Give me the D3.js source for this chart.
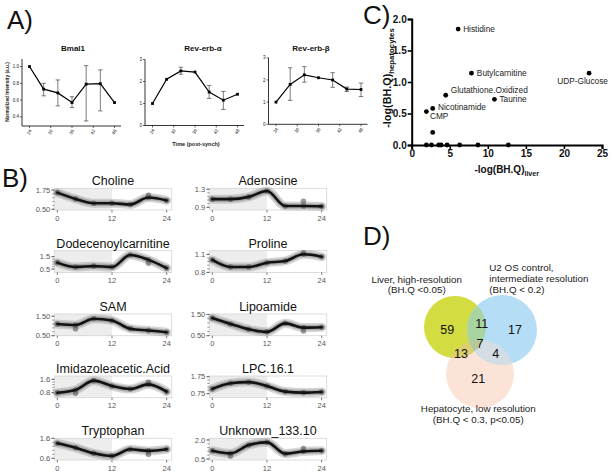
<!DOCTYPE html>
<html><head><meta charset="utf-8">
<script src="https://cdn.jsdelivr.net/npm/d3@7"></script>
<style>body{margin:0;background:#fff}svg{display:block}text{font-family:"Liberation Sans",Arial,sans-serif}</style>
</head><body><svg id="c" width="612" height="475"></svg>
<script>
// ---------- Panel A data ----------
const aTimes=[24,28,32,36,40,44,48];
const aXTicks=[24,30,36,42,48];
const bmal1=[1.0,0.73,0.685,0.57,0.79,0.795,0.57];
const bmal1Lo=[null,0.65,0.53,0.51,0.35,0.47,null];
const bmal1Hi=[null,0.80,0.84,0.64,1.01,0.96,null];
const revA=[1.0,2.1,2.48,2.43,1.52,1.15,1.42];
const revALo=[null,null,2.33,null,1.23,0.73,null];
const revAHi=[null,null,2.65,null,1.82,1.55,null];
const revB=[1.0,1.80,2.23,2.1,2.0,1.59,1.57];
const revBLo=[null,1.08,1.9,null,1.67,1.48,1.25];
const revBHi=[null,2.55,2.6,null,2.33,1.68,1.86];
const bmalYTicks=[0.4,0.6,0.8,1.0];
const revYTicks=[0,1,2,3];

// ---------- Panel B data ----------
const bTimes=[0,4,8,12,16,20,24];
const bXTicks=[0,12,24];
const choline=[1.58,1.17,0.89,0.89,0.81,1.26,1.07];
const adenosine=[1.08,1.08,1.13,1.26,0.93,0.93,0.92];
const dodecenoylcarnitine=[1.02,0.66,0.74,0.66,1.63,1.24,0.58];
const proline=[1.007,0.89,0.89,0.96,0.99,1.10,1.06];
const sam=[1.10,1.05,1.37,1.28,0.86,0.77,0.68];
const lipoamide=[1.33,1.05,0.80,0.68,1.08,0.88,0.90];
const imidazoleaceticAcid=[0.80,0.96,1.52,1.20,1.02,1.30,0.86];
const lpc161=[1.03,1.36,1.43,1.20,0.87,0.81,0.85];
const tryptophan=[1.35,1.13,0.85,0.72,1.05,0.97,1.05];
const unknown13310=[1.15,0.94,1.60,1.81,0.92,1.10,1.15];
const cholineExtra=[[20,1.40]];
const adenosineExtra=[[20,1.03]];
const dodecenoylcarnitineExtra=[[20,0.98]];
const prolineExtra=[[20,1.12]];
const samExtra=[[4,0.86]];
const lipoamideExtra=[[20,0.72]];
const imidazoleaceticAcidExtra=[[4,0.76],[20,1.42]];
const lpc161Extra=[];
const tryptophanExtra=[[20,0.80]];
const unknown13310Extra=[[4,0.73],[20,1.32]];
const cholineRange=[0.45,1.86], cholineTicks=[0.5,1.75], cholineTickLabels=["0.50","1.75"];
const adenosineRange=[0.84,1.32], adenosineTicks=[0.9,1.3], adenosineTickLabels=["0.9","1.3"];
const dodecenoylcarnitineRange=[0.23,1.98], dodecenoylcarnitineTicks=[0.5,1.5], dodecenoylcarnitineTickLabels=["0.5","1.5"];
const prolineRange=[0.8,1.16], prolineTicks=[0.8,1.1], prolineTickLabels=["0.8","1.1"];
const samRange=[0.5,1.61], samTicks=[0.5,1.5], samTickLabels=["0.50","1.50"];
const lipoamideRange=[0.5,1.52], lipoamideTicks=[0.5,1.5], lipoamideTickLabels=["0.50","1.50"];
const imidazoleaceticAcidRange=[0.5,1.8], imidazoleaceticAcidTicks=[0.8,1.6], imidazoleaceticAcidTickLabels=["0.8","1.6"];
const lpc161Range=[0.51,1.79], lpc161Ticks=[0.75,1.75], lpc161TickLabels=["0.75","1.75"];
const tryptophanRange=[0.515,1.6], tryptophanTicks=[0.6,1.6], tryptophanTickLabels=["0.6","1.6"];
const unknown13310Range=[0.42,2.13], unknown13310Ticks=[0.5,2.0], unknown13310TickLabels=["0.5","2.0"];

// ---------- Panel C data ----------
const cLabels=["Histidine","Butylcarnitine","UDP-Glucose","Glutathione.Oxidized","Taurine","Nicotinamide","CMP"];
const cLiver=[6.1,7.85,23.3,4.47,10.87,2.76,1.93];
const cHep=[1.84,1.14,1.14,0.79,0.725,0.58,0.53];
const cOtherLiver=[2.76,1.93,2.6,3.55,3.86,4.65,6.3,8.7,12.7];
const cOtherHep=[0.20,0,0,0,0,0,0,0,0];
const cXTicks=[0,5,10,15,20,25];
const cYTicks=[0,0.5,1.0,1.5,2.0];

// ---------- Panel D data ----------
const vennCounts=[59,11,17,13,7,4,21];
const vennRegions=["L","LU","U","LH","LUH","UH","H"];
const vennSetNames=["Liver, high-resolution","U2 OS control,","Hepatocyte, low resolution"];

const svg=d3.select("#c");
const FONT='"Liberation Sans",Arial,sans-serif';

// panel letters
[["A)",7,29],["B)",2,187],["C)",363,24],["D)",363,245]].forEach(([t,x,y])=>{
  svg.append("text").attr("x",x).attr("y",y).attr("font-size",26).attr("fill","#111").text(t);
});

// ---------- Panel A ----------
function drawA(x0,yTop,yBot,dom,yTicks,fmt,vals,lo,hi,title,titleX){
  const g=svg.append("g");
  const x=d3.scaleLinear().domain([24,48]).range([x0+7.5,x0+92.5]);
  const y=d3.scaleLinear().domain(dom).range([yBot,yTop]);
  g.append("line").attr("x1",x0).attr("x2",x0).attr("y1",yBot).attr("y2",yTop).attr("stroke","#000").attr("stroke-width",0.8);
  g.append("line").attr("x1",x0).attr("x2",x0+99).attr("y1",yBot).attr("y2",yBot).attr("stroke","#000").attr("stroke-width",0.8);
  yTicks.forEach(t=>{
    g.append("line").attr("x1",x0-2).attr("x2",x0).attr("y1",y(t)).attr("y2",y(t)).attr("stroke","#000").attr("stroke-width",0.6);
    g.append("text").attr("x",x0-3).attr("y",y(t)).attr("dy","0.35em").attr("text-anchor","end").attr("font-size",4.5).attr("fill","#222").text(fmt(t));
  });
  aXTicks.forEach(t=>{
    g.append("line").attr("x1",x(t)).attr("x2",x(t)).attr("y1",yBot).attr("y2",yBot+2).attr("stroke","#000").attr("stroke-width",0.6);
    g.append("text").attr("transform",`translate(${x(t)+1},${yBot+4}) rotate(-60)`).attr("text-anchor","end").attr("dy","0.3em").attr("font-size",4.5).attr("fill","#222").text(t);
  });
  aTimes.forEach((t,i)=>{
    if(lo[i]!=null){
      g.append("line").attr("x1",x(t)).attr("x2",x(t)).attr("y1",y(lo[i])).attr("y2",y(hi[i])).attr("stroke","#444").attr("stroke-width",0.7);
      [lo[i],hi[i]].forEach(v=>g.append("line").attr("x1",x(t)-2.2).attr("x2",x(t)+2.2).attr("y1",y(v)).attr("y2",y(v)).attr("stroke","#444").attr("stroke-width",0.7));
    }
  });
  g.append("path").datum(vals).attr("fill","none").attr("stroke","#000").attr("stroke-width",1.2)
    .attr("d",d3.line().x((d,i)=>x(aTimes[i])).y(d=>y(d)));
  g.selectAll("rect.m").data(vals).join("rect").attr("x",(d,i)=>x(aTimes[i])-1.4).attr("y",d=>y(d)-1.4).attr("width",2.8).attr("height",2.8).attr("fill","#000");
  g.append("text").attr("x",titleX).attr("y",50.5).attr("text-anchor","middle").attr("font-size",8).attr("font-weight","bold").attr("fill","#111").text(title);
}
drawA(22,59,126,[0.29,1.09],bmalYTicks,d3.format(".1f"),bmal1,bmal1Lo,bmal1Hi,"Bmal1",73);
drawA(145,59.5,125.5,[0,3],revYTicks,d3.format("d"),revA,revALo,revAHi,"Rev-erb-\u03b1",203);
drawA(268.5,57.8,124.3,[0,3],revYTicks,d3.format("d"),revB,revBLo,revBHi,"Rev-erb-\u03b2",311);
svg.append("text").attr("transform","translate(8.5,92) rotate(-90)").attr("text-anchor","middle").attr("font-size",4.8).attr("font-weight","bold").attr("fill","#222").text("Normalized Intensity (a.u.)");
svg.append("text").attr("x",196).attr("y",146).attr("text-anchor","middle").attr("font-size",5.5).attr("font-weight","bold").attr("fill","#222").text("Time (post-synch)");

// ---------- Panel B ----------
const bPanels=[
  ["Choline",choline,cholineExtra,cholineRange,cholineTicks,cholineTickLabels],
  ["Adenosine",adenosine,adenosineExtra,adenosineRange,adenosineTicks,adenosineTickLabels],
  ["Dodecenoylcarnitine",dodecenoylcarnitine,dodecenoylcarnitineExtra,dodecenoylcarnitineRange,dodecenoylcarnitineTicks,dodecenoylcarnitineTickLabels],
  ["Proline",proline,prolineExtra,prolineRange,prolineTicks,prolineTickLabels],
  ["SAM",sam,samExtra,samRange,samTicks,samTickLabels],
  ["Lipoamide",lipoamide,lipoamideExtra,lipoamideRange,lipoamideTicks,lipoamideTickLabels],
  ["Imidazoleacetic.Acid",imidazoleaceticAcid,imidazoleaceticAcidExtra,imidazoleaceticAcidRange,imidazoleaceticAcidTicks,imidazoleaceticAcidTickLabels],
  ["LPC.16.1",lpc161,lpc161Extra,lpc161Range,lpc161Ticks,lpc161TickLabels],
  ["Tryptophan",tryptophan,tryptophanExtra,tryptophanRange,tryptophanTicks,tryptophanTickLabels],
  ["Unknown_133.10",unknown13310,unknown13310Extra,unknown13310Range,unknown13310Ticks,unknown13310TickLabels]
];
const colLeft=[54.3,209.3], boxW=117.4, boxH=21.7, rowTop=[188.3,250.7,314,376,438.3];
bPanels.forEach((p,k)=>{
  const [name,vals,extra,range,ticks,tickLabels]=p;
  const L=colLeft[k%2], T=rowTop[Math.floor(k/2)], B=T+boxH, R=L+boxW;
  const x=d3.scaleLinear().domain([-0.66,25.1]).range([L,R]);
  const y=d3.scaleLinear().domain(range).range([B,T]);
  const g=svg.append("g");
  g.append("rect").attr("x",L).attr("y",T).attr("width",boxW).attr("height",boxH).attr("fill","#fff");
  g.append("rect").attr("x",L).attr("y",T).attr("width",x(12)-L).attr("height",boxH).attr("fill","#ededed");
  g.append("rect").attr("x",L).attr("y",T).attr("width",boxW).attr("height",boxH).attr("fill","none").attr("stroke","#d4d4d4").attr("stroke-width",0.8);
  const minor=d3.range(0,6).map(i=>ticks[0]+(ticks[1]-ticks[0])*i/5);
  minor.forEach(t=>g.append("line").attr("x1",L-2).attr("x2",L).attr("y1",y(t)).attr("y2",y(t)).attr("stroke","#444").attr("stroke-width",0.6));
  ticks.forEach((t,i)=>{
    g.append("line").attr("x1",L-3).attr("x2",L).attr("y1",y(t)).attr("y2",y(t)).attr("stroke","#444").attr("stroke-width",0.7);
    g.append("text").attr("x",L-4).attr("y",y(t)).attr("dy","0.35em").attr("text-anchor","end").attr("font-size",7.5).attr("fill","#555").text(tickLabels[i]);
  });
  bXTicks.forEach(t=>{
    g.append("line").attr("x1",x(t)).attr("x2",x(t)).attr("y1",B).attr("y2",B+2.5).attr("stroke","#444").attr("stroke-width",0.7);
    g.append("text").attr("x",x(t)).attr("y",B+10.5).attr("text-anchor","middle").attr("font-size",7.5).attr("fill","#555").text(t);
  });
  const ln=d3.line().x((d,i)=>x(bTimes[i])).y(d=>y(d)).curve(d3.curveMonotoneX);
  g.append("path").datum(vals).attr("fill","none").attr("stroke","#999").attr("stroke-opacity",0.4).attr("stroke-width",9).attr("stroke-linecap","round").attr("d",ln);
  g.append("path").datum(vals).attr("fill","none").attr("stroke","#777").attr("stroke-opacity",0.45).attr("stroke-width",5.5).attr("stroke-linecap","round").attr("d",ln);
  const pts=vals.map((v,i)=>[bTimes[i],v]).concat(extra);
  g.selectAll("circle").data(pts).join("circle").attr("cx",d=>x(d[0])).attr("cy",d=>y(d[1])).attr("r",2.8).attr("fill","#555").attr("fill-opacity",0.6);
  g.append("path").datum(vals).attr("fill","none").attr("stroke","#111").attr("stroke-width",2.6).attr("stroke-linecap","round").attr("d",ln);
  g.append("text").attr("x",L+boxW/2).attr("y",T-3).attr("text-anchor","middle").attr("font-size",12.5).attr("fill","#111").text(name);
});

// ---------- Panel C ----------
(function(){
  const x=d3.scaleLinear().domain([0,25]).range([411.7,602]);
  const y=d3.scaleLinear().domain([0,2]).range([145,19]);
  const g=svg.append("g");
  const ax=g.append("g").attr("transform","translate(0,145)").call(d3.axisBottom(x).tickValues(cXTicks).tickSize(4).tickPadding(1).tickFormat(d3.format("d")));
  const ay=g.append("g").attr("transform","translate(411.7,0)").call(d3.axisLeft(y).tickValues(cYTicks).tickSize(4).tickPadding(1).tickFormat(d3.format(".1f")));
  [ax,ay].forEach(a=>{a.select(".domain").attr("stroke-width",2).attr("stroke","#000");a.selectAll(".tick line").attr("stroke-width",1.6);a.selectAll("text").attr("font-size",10).attr("font-weight","bold").attr("font-family",FONT).attr("fill","#111");});
  g.selectAll("circle.o").data(cOtherLiver).join("circle").attr("cx",d=>x(d)).attr("cy",(d,i)=>y(cOtherHep[i])).attr("r",2.4).attr("fill","#000");
  g.selectAll("circle.l").data(cLiver).join("circle").attr("cx",d=>x(d)).attr("cy",(d,i)=>y(cHep[i])).attr("r",2.4).attr("fill","#000");
  const off={"Histidine":[5,0,"start"],"Butylcarnitine":[5.4,0,"start"],"UDP-Glucose":[-6.5,8.4,"middle"],"Glutathione.Oxidized":[5,-5,"start"],"Taurine":[5,0,"start"],"Nicotinamide":[5.3,-1.8,"start"],"CMP":[3.5,4.5,"start"]};
  cLabels.forEach((n,i)=>{
    const o=off[n];
    g.append("text").attr("x",x(cLiver[i])+o[0]).attr("y",y(cHep[i])+o[1]).attr("dy","0.35em").attr("text-anchor",o[2]).attr("font-size",8.3).attr("fill","#222").text(n);
  });
  const xt=g.append("text").attr("x",506.7).attr("y",173).attr("text-anchor","middle").attr("font-size",10).attr("font-weight","bold").attr("fill","#111");
  xt.append("tspan").text("-log(BH.Q)");
  xt.append("tspan").attr("font-size",7).attr("dy",3).text("liver");
  const yt=g.append("text").attr("transform","translate(391,78) rotate(-90)").attr("text-anchor","middle").attr("font-size",10.8).attr("font-weight","bold").attr("fill","#111");
  yt.append("tspan").text("-log(BH.Q)");
  yt.append("tspan").attr("font-size",7.8).attr("dy",3.2).text("hepatocytes");
})();

// ---------- Panel D ----------
(function(){
  const g=svg.append("g");
  const C={L:[455,327,31],U:[502,330,35],H:[480,374,34]};
  const defs=svg.append("defs");
  Object.entries(C).forEach(([k,c])=>defs.append("clipPath").attr("id","clip"+k).append("circle").attr("cx",c[0]).attr("cy",c[1]).attr("r",c[2]));
  const col={H:"#fbe4d7",L:"#d3dd42",U:"#b5def6",LH:"#dbcf70",UH:"#d4dde3",LU:"#a9d4a2",LUH:"#b6c99a"};
  const circ=(sel,k,fill)=>sel.append("circle").attr("cx",C[k][0]).attr("cy",C[k][1]).attr("r",C[k][2]).attr("fill",fill);
  circ(g,"H",col.H); circ(g,"L",col.L); circ(g,"U",col.U);
  circ(g.append("g").attr("clip-path","url(#clipL)"),"H",col.LH);
  circ(g.append("g").attr("clip-path","url(#clipU)"),"H",col.UH);
  circ(g.append("g").attr("clip-path","url(#clipL)"),"U",col.LU);
  circ(g.append("g").attr("clip-path","url(#clipL)").append("g").attr("clip-path","url(#clipU)"),"H",col.LUH);
  const pos={L:[447.3,329.3],LU:[481.7,323.3],U:[515,329.3],LH:[461,354],LUH:[480,344],UH:[495.7,354],H:[478.3,378.7]};
  vennRegions.forEach((r,i)=>g.append("text").attr("x",pos[r][0]).attr("y",pos[r][1]).attr("dy","0.35em").attr("text-anchor","middle").attr("font-size",12.5).attr("fill","#111").text(vennCounts[i]));
  const t=(s,x,y,a)=>g.append("text").attr("x",x).attr("y",y).attr("dy","0.35em").attr("text-anchor",a).attr("font-size",9.8).attr("fill","#222").text(s);
  t(vennSetNames[0],416.7,279.3,"middle"); t("(BH.Q <0.05)",416.7,290,"middle");
  t(vennSetNames[1],489.3,267.3,"start"); t("intermediate resolution",489.3,278.7,"start"); t("(BH.Q < 0.2)",489.3,289.3,"start");
  t(vennSetNames[2],478.3,409,"middle"); t("(BH.Q < 0.3, p<0.05)",478.3,420,"middle");
})();
</script></body></html>
